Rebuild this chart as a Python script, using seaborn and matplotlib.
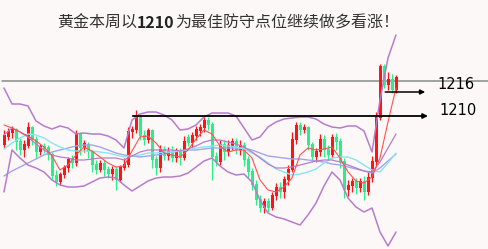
import matplotlib
matplotlib.use("Agg")
import matplotlib.pyplot as plt
import seaborn as sns
import numpy as np
import pandas as pd

# ---- candle data (price) ----
opens = [1202.75,1204.75,1205.75,1206.5,1203.5,1201.5,1202.5,1207,1204,1201,
         1202.25,1202,1200.25,1195,1193.5,1195.25,1197,1199,1198.25,1205.5,
         1202,1202.75,1201,1197.75,1196.5,1198,1196.5,1195.5,1196.5,1194,
         1197,1197.75,1206,1206.5,1209.5,1205,1204,1206.25,1199,1197,
         1201.5,1200,1201,1199.5,1201,1199.5,1204.5,1203.25,1205,1206.25,
         1207,1208.75,1207.75,1199.75,1198.5,1202.75,1201,1202.5,1203.5,1201.5,
         1202.5,1199,1196,1192.75,1189,1187,1188.5,1187,1190,1192,
         1191,1194,1196.5,1204,1207.5,1206.5,1207,1202.75,1199.75,1201,
         1204,1201.5,1200.25,1204.5,1203.5,1198.5,1191.5,1192.5,1193.5,1192,
         1193.5,1191,1194.5,1198.5,1209.5,1222.25,1217.75,1219,1216.5]
closes = [1205,1206,1206.75,1203.5,1201.5,1202.75,1207,1204,1201,1202.25,
          1201.75,1200.25,1195,1193.5,1195.25,1197,1199,1198.25,1205.5,1202,
          1203,1201,1197.75,1196.5,1198,1196.5,1195.5,1196.5,1194,1197,
          1197.75,1206,1206.5,1209.5,1205,1204,1206.25,1199,1197,1201.5,
          1200,1201,1199.5,1201,1199.5,1203.5,1203.25,1205,1206.5,1207,
          1208.75,1207.75,1199.75,1198.5,1202.75,1201,1202.5,1203.5,1201.5,1202.5,
          1199,1196,1192.75,1189,1187,1188.5,1187,1190,1192,1191,
          1194,1196.5,1204,1207.5,1206.5,1207,1202.75,1199.75,1201,1204,
          1201.5,1200.25,1204.5,1203.5,1198.5,1191.5,1192.5,1193.5,1192,1193.5,
          1191,1194.5,1198.5,1209.5,1222.25,1217.75,1219,1216.5,1219.5]
highs = [1206.5,1207,1207.5,1207,1204.5,1204,1208.5,1207.5,1205,1203,
         1203.25,1202.75,1201,1196.5,1196,1197.75,1199.75,1200.25,1206.5,1206,
         1204,1203.5,1201.5,1199,1199,1199,1197.5,1197.5,1197.5,1197.75,
         1199.5,1207.25,1207.5,1211.5,1210,1206.5,1207,1206.75,1200,1202.75,
         1202.5,1202.25,1202.5,1202,1202,1205,1205.5,1206,1207.5,1208,
         1209.75,1209.75,1208.5,1201,1204,1204,1204,1204.5,1204.5,1204,
         1203.5,1200,1197,1194,1190.25,1189.5,1189.5,1191,1193.25,1193.5,
         1195,1197.75,1206,1208.5,1208.5,1208,1207.5,1203.5,1202,1205.5,
         1205.25,1202.75,1205.5,1205.75,1204.5,1199.5,1194,1194.5,1194.5,1194.5,
         1195,1196,1200,1211,1223,1223,1221,1220.5,1220.25]
lows = [1202,1204,1204.5,1201.5,1200.25,1199.75,1202,1202.75,1199.5,1200.25,
        1200.75,1199,1194,1192.5,1192.75,1194.5,1196,1197,1197.5,1200.25,
        1201,1199.5,1196,1195.5,1196,1195,1194.5,1194,1191.5,1193.5,
        1196.5,1197.25,1204.5,1205.75,1204,1202.75,1203.25,1197,1195.25,1196,
        1199,1199,1198.5,1198.5,1197.75,1199,1202.5,1202.25,1204,1205,
        1206,1206.5,1194,1197.5,1197.75,1199,1200,1201.5,1200.5,1200.25,
        1197.5,1194.5,1191.5,1187.75,1186,1185.75,1186,1186.5,1189,1189.5,
        1189.5,1192.75,1196,1203,1205.25,1205.75,1201.5,1198.5,1198.5,1200,
        1199.75,1199,1199.5,1201.5,1197,1189.5,1190,1191,1190.5,1191,
        1189,1190.25,1193.5,1197.5,1209,1217,1216.5,1215.75,1215.75]

# ---- indicator lines, sampled every second bar ----
upper_band = [1217,1213,1213,1212.5,1208.75,1207.5,1206.75,1207.5,1207,1205.5,
              1205.75,1205.5,1205.5,1205,1204,1202,1209,1210.5,1211,1211,
              1210.25,1209,1206.5,1206.75,1207.75,1209.75,1210.75,1210.75,1210.75,1210,
              1207,1204,1204.75,1207.25,1208.5,1209.25,1209.5,1209.75,1209.75,1209.25,
              1208,1207.25,1207,1207.5,1207.5,1206.25,1201,1214,1224.5,1230.25]
lower_band = [1191,1201.5,1199.5,1197.75,1197,1196,1194,1192.75,1192.25,1192.25,
              1192.5,1193.5,1194.5,1194.75,1194.5,1192.75,1191.25,1192.5,1193.75,1194.5,
              1194.75,1194.75,1195,1195.75,1197.25,1198.75,1199.5,1197.5,1196,1195.25,
              1195.5,1193.5,1189,1185.75,1184.75,1184.25,1183.5,1182.75,1185.25,1188.25,
              1192.5,1196,1194,1189.5,1187.25,1186,1187,1181,1177.5,1181]
mid_band = [1205.25,1207,1206,1204.75,1203,1201.5,1200.25,1199.75,1199.5,1199,
            1199,1199.25,1199.5,1199.5,1199.5,1199,1200,1201,1201.5,1201.5,
            1201.5,1201.5,1201.25,1201.75,1202.5,1203.5,1204,1204,1203.5,1203,
            1202.25,1201,1199.5,1198,1197,1197,1197.25,1197.75,1198.25,1198.75,
            1199,1199,1198.5,1197.75,1197,1196.25,1196,1198.5,1202,1205.5]
ma_cyan = [1201.75,1203.25,1204.5,1205.5,1205.25,1204.5,1203.25,1202.25,1201.5,1201.25,
           1201.25,1201.25,1201,1200.75,1200.25,1199.75,1200,1200.25,1200.75,1200.75,
           1201,1201,1201.25,1201.5,1202,1202.25,1202.5,1202.75,1202.5,1202.25,
           1201.75,1200.75,1199.75,1198.25,1196.75,1196,1195.25,1195.5,1196,1196.75,
           1198.25,1199.5,1199.75,1199.75,1199,1197.75,1196.5,1196,1198.25,1200.75]
ma_slow = [1195,1196.25,1197.25,1198.25,1199.25,1200.25,1201,1201.5,1202,1202.5,
           1202.75,1202.75,1202.25,1201.5,1200.75,1200.25,1200,1199.75,1200,1200.25,
           1200.5,1201,1201.25,1201.5,1201.5,1201.75,1202,1202,1202,1202,
           1202,1201.5,1200.75,1200,1199.75,1199.5,1199.25,1199.25,1199,1198.75,
           1198.5,1198,1197.75,1197.25,1196.75,1196.25,1195.75,1197,1198.75,1200.5]
ma_fast = [1207.75,1207,1206,1205,1203.75,1202.25,1200,1196.5,1197.75,1200.25,
           1202.25,1201.25,1199.75,1198.25,1197.25,1197.5,1201.25,1204.75,1205,1203.25,
           1200.75,1200.25,1199.75,1201.5,1204.25,1206.5,1205.5,1202.5,1201,1201.5,
           1201.5,1199.5,1194,1191.5,1191,1192.25,1194.5,1200.25,1202,1201.5,
           1201.75,1202.25,1199.5,1196,1193.75,1193.25,1194.75,1199.5,1208.5,1217]

title_parts = ["黄金本周以", "1210", "为最佳防守点位继续做多看涨！"]
resistance = 1218.7
level_hi = 1216
level_lo = 1210
label_hi = "1216"
label_lo = "1210"

sns.set_theme(style="white")
plt.rcParams['font.family'] = ['Noto Sans CJK SC', 'DejaVu Sans']

bg = "#fdf8f8"
fig = plt.figure(figsize=(4.88, 2.49), dpi=100, facecolor=bg)
ax = fig.add_axes([0, 0, 1, 1])
ax.set_facecolor(bg)
for s in ax.spines.values():
    s.set_visible(False)

n = len(closes)
idx = np.arange(n)
o = np.array(opens); c = np.array(closes)
h = np.array(highs); l = np.array(lows)
up = c >= o
red = "#ff1414"
green = "#2cee88"
cols = np.where(up, red, green)

ax.vlines(idx, l, h, colors=cols, linewidth=0.9, zorder=2)
ax.bar(idx, np.abs(c - o) + 0.15, bottom=np.minimum(o, c), width=0.75,
       color=cols, linewidth=0, zorder=3)

line_x = np.arange(0, n, 2)
df = pd.DataFrame({"x": line_x, "ub": upper_band, "lb": lower_band, "mb": mid_band,
                   "cy": ma_cyan, "sl": ma_slow, "fa": ma_fast})
purple = "#b67ccb"
sns.lineplot(data=df, x="x", y="sl", ax=ax, color="#a3a3ee", lw=1.0, zorder=4)
sns.lineplot(data=df, x="x", y="cy", ax=ax, color="#86e6f2", lw=1.0, zorder=4)
sns.lineplot(data=df, x="x", y="mb", ax=ax, color=purple, lw=0.9, zorder=4)
sns.lineplot(data=df, x="x", y="ub", ax=ax, color=purple, lw=1.1, zorder=4)
sns.lineplot(data=df, x="x", y="lb", ax=ax, color=purple, lw=1.1, zorder=4)
sns.lineplot(data=df, x="x", y="fa", ax=ax, color="#ff5050", lw=0.8, zorder=5)
ax.set_xlabel(""); ax.set_ylabel("")
ax.set_xlim(-1, 121)
ax.set_ylim(1176.75, 1239)
ax.set_xticks([]); ax.set_yticks([])

ax.axhline(resistance, xmin=0.005, xmax=1, color="#8a8a8a", lw=1.1, zorder=1)
ax.annotate("", xy=(106, level_lo), xytext=(32.2, level_lo),
            arrowprops=dict(arrowstyle="-|>", color="black", lw=1.3,
                            mutation_scale=7, shrinkA=0, shrinkB=0), zorder=6)
ax.annotate("", xy=(105.3, level_hi), xytext=(95.3, level_hi),
            arrowprops=dict(arrowstyle="-|>", color="black", lw=1.1,
                            mutation_scale=7, shrinkA=0, shrinkB=0), zorder=6)
ax.text(108.3, 1217.9, label_hi, fontsize=10.5, family="DejaVu Sans",
        va="center", ha="left", color="black")
ax.text(108.8, 1211.4, label_lo, fontsize=10.5, family="DejaVu Sans",
        va="center", ha="left", color="black")

fam = ['Noto Sans CJK SC', 'DejaVu Sans']
t1 = fig.text(57 / 488, 1 - 23 / 249, title_parts[0], fontsize=11.5, ha="left",
              va="center", color="#333333", family=fam)
t2 = ax.annotate(title_parts[1], xy=(1, 0.5), xycoords=t1, ha="left", va="center",
                 fontsize=11.5, color="#222222", fontweight="bold", family=fam,
                 annotation_clip=False)
t3 = ax.annotate(title_parts[2], xy=(1, 0.5), xycoords=t2, ha="left", va="center",
                 fontsize=11.5, color="#333333", family=fam, annotation_clip=False)

fig.savefig("out.png", dpi=100, facecolor=bg)
